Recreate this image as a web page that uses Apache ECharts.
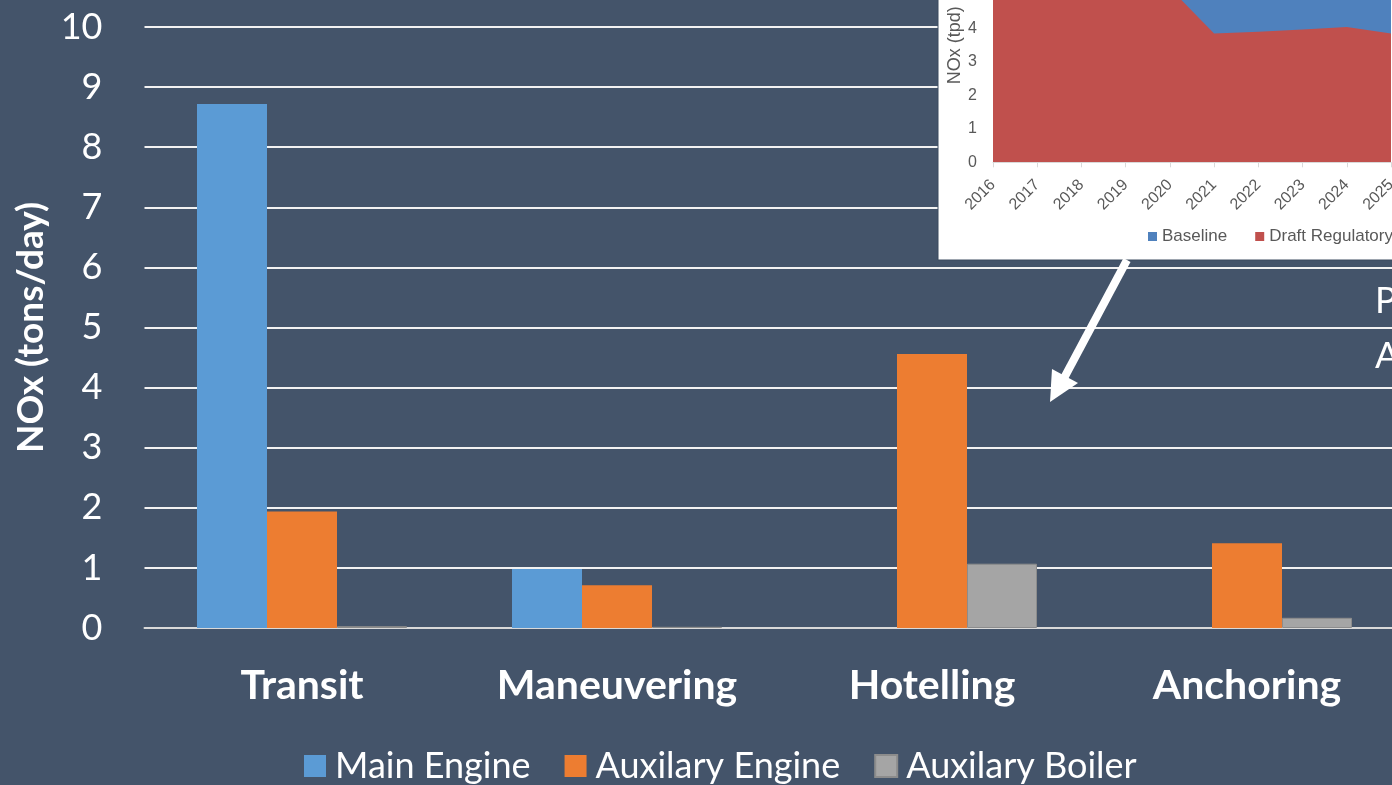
<!DOCTYPE html>
<html>
<head>
<meta charset="utf-8">
<script src="https://cdn.jsdelivr.net/npm/echarts@6/dist/echarts.min.js"></script>
<style>
  html, body { margin: 0; padding: 0; background: #44546A; overflow: hidden; width: 1392px; height: 785px; }
  /* chart canvas is a bit larger than the window: the original picture is cropped on the right and at the top */
  #chart { position: absolute; left: 0; top: -80px; width: 1420px; height: 865px; }
</style>
</head>
<body>
<div id="chart"></div>
<script>
// main chart data
var modes = ['Transit', 'Maneuvering', 'Hotelling', 'Anchoring'];
var mainEngine = [8.72, 0.98, 0, 0];
var auxEngine = [1.94, 0.71, 4.56, 1.41];
var auxBoiler = [0.03, 0.02, 1.07, 0.17];
var yTicks = [0, 1, 2, 3, 4, 5, 6, 7, 8, 9, 10];

// inset (area chart) data
var years = ['2016', '2017', '2018', '2019', '2020', '2021', '2022', '2023', '2024', '2025'];
var baseline = [5.2, 5.2, 5.2, 5.2, 5.2, 5.3, 5.3, 5.4, 5.4, 5.5];
var draftReg = [5.2, 5.2, 5.2, 5.2, 5.2, 3.85, 3.9, 3.97, 4.04, 3.85];

var OFF = 80; // canvas is shifted up by this much

function baidu_echarts(){
	var dom = document.getElementById('chart');
	var myChart = echarts.init(dom);
	var font = 'Lato';
	var inFont = 'Liberation Sans';
	var option = {
	    animation: false,
	    backgroundColor: '#44546A',
	    textStyle: { fontFamily: font },
	    legend: [
	        {
	            data: ['Main Engine', 'Auxilary Engine', 'Auxilary Boiler'],
	            left: 304,
	            top: 748 + OFF,
	            padding: 0,
	            icon: 'rect',
	            itemWidth: 22,
	            itemHeight: 22,
	            itemGap: 34,
	            textStyle: { color: '#fff', fontSize: 36, fontFamily: font, padding: [0, 0, 0, 4] }
	        },
	        {
	            data: ['Baseline', 'Draft Regulatory'],
	            left: 1148,
	            top: 228 + OFF,
	            padding: 0,
	            icon: 'rect',
	            itemWidth: 9,
	            itemHeight: 9,
	            itemGap: 28,
	            zlevel: 1,
	            z: 10,
	            textStyle: { color: '#595959', fontSize: 17, fontFamily: inFont }
	        }
	    ],
	    grid: [
	        { left: 144.5, top: 27 + OFF, width: 1260, height: 601 },
	        { left: 993, top: -75 + OFF, width: 398, height: 237.3 }
	    ],
	    xAxis: [
	        {
	            type: 'category',
	            gridIndex: 0,
	            data: modes,
	            axisLine: { lineStyle: { color: '#D9D9D9', width: 2 } },
	            axisTick: { show: false },
	            axisLabel: { color: '#fff', fontSize: 41, fontWeight: 'bold', fontFamily: font, margin: 37 }
	        },
	        {
	            type: 'category',
	            gridIndex: 1,
	            data: years,
	            boundaryGap: false,
	            zlevel: 1,
	            z: 5,
	            axisLine: { lineStyle: { color: '#D9D9D9', width: 1 } },
	            axisTick: { show: true, length: 5, lineStyle: { color: '#D9D9D9' } },
	            axisLabel: { color: '#595959', fontSize: 16, fontFamily: inFont, rotate: 45, margin: 20 }
	        }
	    ],
	    yAxis: [
	        {
	            type: 'value',
	            gridIndex: 0,
	            min: yTicks[0],
	            max: yTicks[yTicks.length - 1],
	            interval: 1,
	            name: 'NOx (tons/day)',
	            nameLocation: 'middle',
	            nameGap: 94,
	            nameTextStyle: { color: '#fff', fontSize: 37, fontWeight: 'bold', fontFamily: font },
	            axisLine: { show: false },
	            axisTick: { show: false },
	            axisLabel: { color: '#fff', fontSize: 36, fontFamily: font, margin: 42 },
	            splitLine: { lineStyle: { color: '#F2F2F2', width: 2 } }
	        },
	        {
	            type: 'value',
	            gridIndex: 1,
	            min: 0,
	            max: 7,
	            interval: 1,
	            zlevel: 1,
	            z: 5,
	            name: 'NOx (tpd)',
	            nameLocation: 'middle',
	            nameGap: 29,
	            nameTextStyle: { color: '#595959', fontSize: 18, fontFamily: inFont },
	            axisLine: { show: false },
	            axisTick: { show: false },
	            axisLabel: { color: '#595959', fontSize: 16, fontFamily: inFont, margin: 16 },
	            splitLine: { show: false }
	        }
	    ],
	    graphic: [
	        {
	            type: 'rect',
	            zlevel: 1,
	            z: 1,
	            shape: { x: 938, y: 0, width: 500, height: 260 + OFF },
	            style: { fill: '#fff', stroke: '#3B4A5E', lineWidth: 1 }
	        },
	        {
	            type: 'line',
	            zlevel: 1,
	            z: 1,
	            shape: { x1: 1127, y1: 260 + OFF, x2: 1063, y2: 380 + OFF },
	            style: { stroke: '#fff', lineWidth: 8 }
	        },
	        {
	            type: 'polygon',
	            zlevel: 1,
	            z: 1,
	            shape: { points: [[1050, 402 + OFF], [1052, 369 + OFF], [1078, 383 + OFF]] },
	            style: { fill: '#fff' }
	        },
	        {
	            type: 'text',
	            zlevel: 1,
	            left: 1375,
	            top: 283 + OFF,
	            style: { text: 'P', fill: '#fff', font: '36px Lato' }
	        },
	        {
	            type: 'text',
	            zlevel: 1,
	            left: 1375,
	            top: 338 + OFF,
	            style: { text: 'A', fill: '#fff', font: '36px Lato' }
	        }
	    ],
	    series: [
	        {
	            name: 'Main Engine',
	            type: 'bar',
	            xAxisIndex: 0,
	            yAxisIndex: 0,
	            barWidth: 70,
	            barGap: '0%',
	            itemStyle: { color: '#5B9BD5' },
	            data: mainEngine
	        },
	        {
	            name: 'Auxilary Engine',
	            type: 'bar',
	            xAxisIndex: 0,
	            yAxisIndex: 0,
	            barWidth: 70,
	            barGap: '0%',
	            itemStyle: { color: '#ED7D31' },
	            data: auxEngine
	        },
	        {
	            name: 'Auxilary Boiler',
	            type: 'bar',
	            xAxisIndex: 0,
	            yAxisIndex: 0,
	            barWidth: 70,
	            barGap: '0%',
	            itemStyle: { color: '#A5A5A5', borderColor: '#8C8C8C', borderWidth: 1 },
	            data: auxBoiler
	        },
	        {
	            name: 'Baseline',
	            type: 'line',
	            xAxisIndex: 1,
	            yAxisIndex: 1,
	            zlevel: 1,
	            z: 3,
	            symbol: 'none',
	            lineStyle: { width: 0 },
	            itemStyle: { color: '#4F81BD' },
	            areaStyle: { color: '#4F81BD', opacity: 1 },
	            data: baseline
	        },
	        {
	            name: 'Draft Regulatory',
	            type: 'line',
	            xAxisIndex: 1,
	            yAxisIndex: 1,
	            zlevel: 1,
	            z: 4,
	            symbol: 'none',
	            lineStyle: { width: 0 },
	            itemStyle: { color: '#C0504D' },
	            areaStyle: { color: '#C0504D', opacity: 1 },
	            data: draftReg
	        }
	    ]
	};
	if (option && typeof option === 'object') {
	    myChart.setOption(option, true);
	}
}

baidu_echarts();
</script>
</body>
</html>
